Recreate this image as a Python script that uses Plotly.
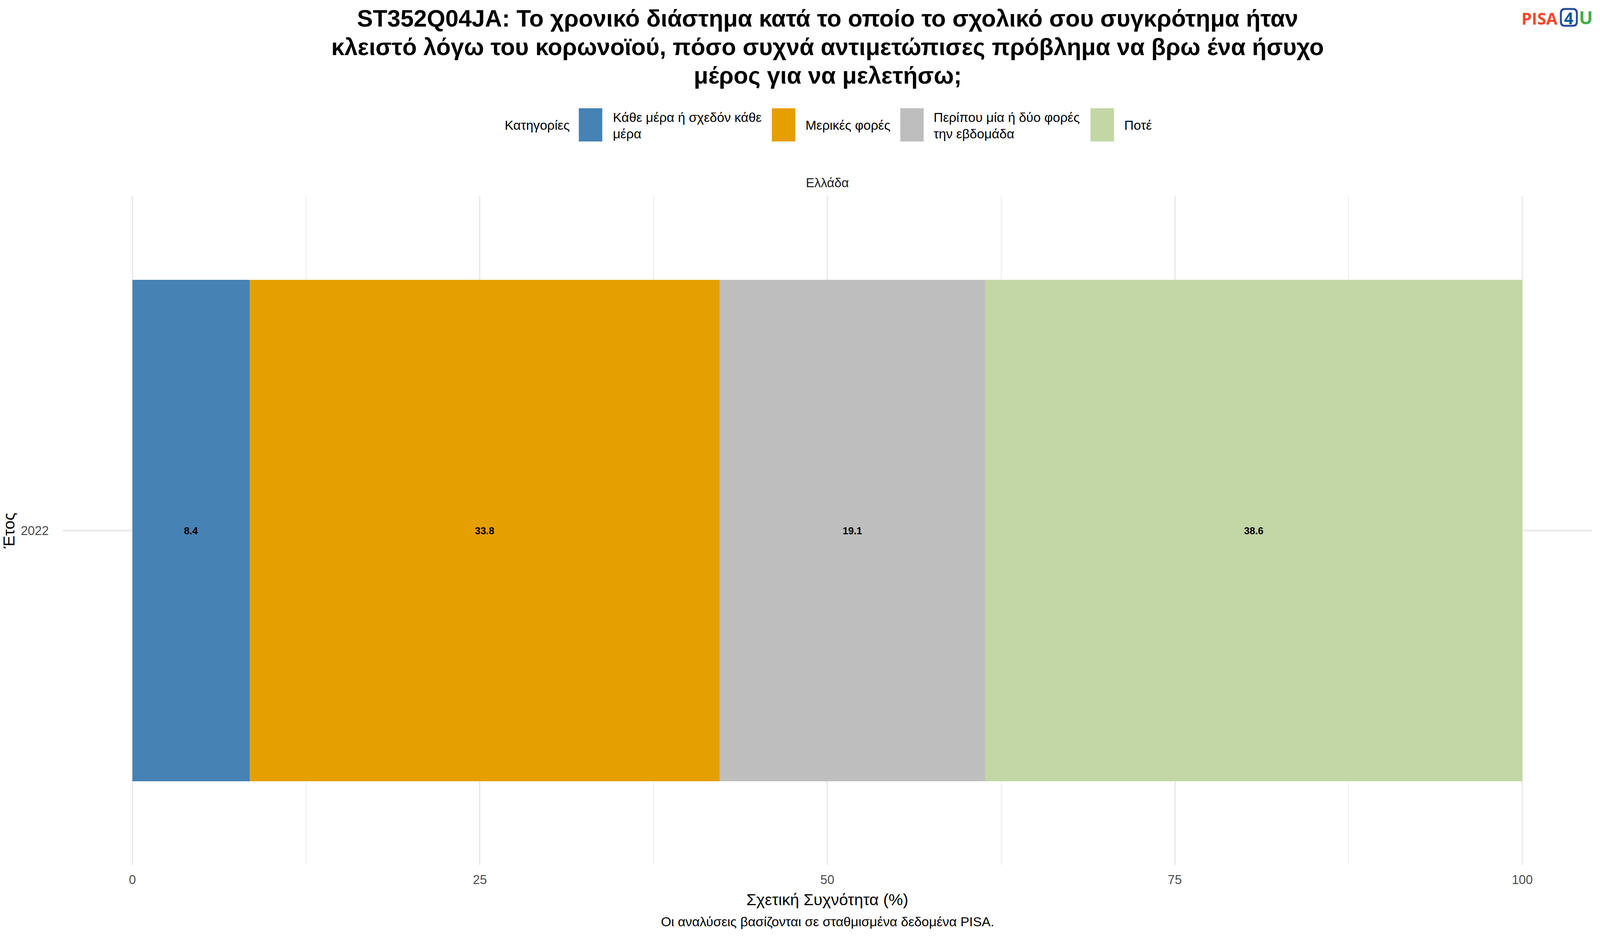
import plotly.graph_objects as go

# The browser viewport is capped at 4096 px wide, so the reference's 4500 px layout is
# scaled horizontally by SX; vertical positions are kept in reference pixels.
REF_W, H = 4500, 2400
VIEW_W = 4096
SX = VIEW_W / REF_W
PX0, PX1, PY0, PY1 = 177, 4477, 502, 2213

years = ["2022"]
categories = ["Κάθε μέρα ή σχεδόν κάθε<br>μέρα", "Μερικές φορές", "Περίπου μία ή δύο φορές<br>την εβδομάδα", "Ποτέ"]
values = [8.44, 33.80, 19.12, 38.64]
colors = ["#4682B4", "#E69F00", "#BEBEBE", "#C3D6A5"]
x_ticks = [0, 25, 50, 75, 100]
title_lines = ["ST352Q04JA: Το χρονικό διάστημα κατά το οποίο το σχολικό σου συγκρότημα ήταν",
               "κλειστό λόγω του κορωνοϊού, πόσο συχνά αντιμετώπισες πρόβλημα να βρω ένα ήσυχο",
               "μέρος για να μελετήσω;"]
FONT = "Liberation Sans"
GRID = "#EBEBEB"

# paper coordinates are fractions of the plot area
def fx(p): return (p - PX0) / (PX1 - PX0)
def fy(p): return (PY1 - p) / (PY1 - PY0)
def fs(size): return size * SX

fig = go.Figure()
for name, v, c in zip(categories, values, colors):
    fig.add_trace(go.Bar(
        y=years, x=[v], orientation="h", name=name.replace("<br>", " "),
        marker=dict(color=c, line=dict(width=0)),
        text=[f"{v:.1f}"], textposition="inside", insidetextanchor="middle", textangle=0,
        textfont=dict(family=FONT, size=fs(28), color="#000000", weight="bold"),
        constraintext="none", showlegend=False,
    ))

shapes, ann = [], []
def note(text, x, y, size, color="#000000", xanchor="center", family=FONT, weight="normal"):
    ann.append(dict(text=text, x=fx(x), y=fy(y), xref="paper", yref="paper", showarrow=False,
                    xanchor=xanchor, yanchor="middle", align="left" if xanchor == "left" else "center",
                    font=dict(family=family, size=fs(size), color=color, weight=weight)))

# title
for line, y in zip(title_lines, [47, 120, 193]):
    note(line, 2328, y, 66.7, weight="bold")

# legend
note("Κατηγορίες", 1417, 320, 36.9, xanchor="left")
swatch_x = [1628, 2171, 2532, 3067]
label_x = [1722, 2263, 2624, 3160]
for c, sx, lx, name in zip(colors, swatch_x, label_x, categories):
    shapes.append(dict(type="rect", xref="paper", yref="paper", x0=fx(sx), x1=fx(sx + 66),
                       y0=fy(277), y1=fy(362), fillcolor=c, line=dict(width=0)))
    lines = name.split("<br>")
    if len(lines) == 1:
        note(lines[0], lx, 320, 36.9, xanchor="left")
    else:
        note(lines[0], lx, 300, 36.9, xanchor="left")
        note(lines[1], lx, 342, 36.9, xanchor="left")

note("Ελλάδα", 2327, 468, 36, color="#1A1A1A")
note("Οι αναλύσεις βασίζονται σε σταθμισμένα δεδομένα PISA.", 2327, 2358, 37.2)

# logo
logo_font = "Open Sans"
note("PISA", 4383, 47, 46, color="#F4472A", xanchor="right", family=logo_font, weight="bold")
note("4", 4412, 45, 46, color="#00569C", family=logo_font, weight="bold")
note("U", 4460, 44, 52, color="#43AE4D", family=logo_font, weight="bold")
x0, x1, y0, y1, r = 4390, 4435, 23, 66, 11
path = (f"M {fx(x0+r)} {fy(y0)} L {fx(x1-r)} {fy(y0)} Q {fx(x1)} {fy(y0)} {fx(x1)} {fy(y0+r)} "
        f"L {fx(x1)} {fy(y1-r)} Q {fx(x1)} {fy(y1)} {fx(x1-r)} {fy(y1)} "
        f"L {fx(x0+r)} {fy(y1)} Q {fx(x0)} {fy(y1)} {fx(x0)} {fy(y1-r)} "
        f"L {fx(x0)} {fy(y0+r)} Q {fx(x0)} {fy(y0)} {fx(x0+r)} {fy(y0)} Z")
shapes.append(dict(type="path", path=path, xref="paper", yref="paper", line=dict(color="#2B4A9B", width=5)))

fig.update_layout(
    autosize=True, barmode="stack", bargap=0.1,
    margin=dict(l=PX0 * SX, r=(REF_W - PX1) * SX, t=PY0, b=H - PY1, pad=0),
    paper_bgcolor="#FFFFFF", plot_bgcolor="#FFFFFF", showlegend=False,
    font=dict(family=FONT),
    xaxis=dict(range=[-5, 105], tickvals=x_ticks, ticktext=[str(t) for t in x_ticks],
               showgrid=True, gridcolor=GRID, gridwidth=4.2, zeroline=False, showline=False,
               ticks="", tickfont=dict(family=FONT, size=fs(35.5), color="#4D4D4D"), ticklabelstandoff=16,
               minor=dict(dtick=12.5, tick0=0, showgrid=True, gridcolor=GRID, gridwidth=2.1, ticks=""),
               title=dict(text="Σχετική Συχνότητα (%)", standoff=18,
                          font=dict(family=FONT, size=fs(45.5), color="#000000")), automargin=False),
    yaxis=dict(type="category", range=[-0.6, 0.6], showgrid=True, gridcolor=GRID, gridwidth=4.6,
               zeroline=False, showline=False, ticks="",
               tickfont=dict(family=FONT, size=fs(35.5), color="#4D4D4D"), ticklabelstandoff=35,
               title=dict(text="Έτος", standoff=3, font=dict(family=FONT, size=fs(45.5), color="#000000")),
               automargin=False),
    shapes=shapes, annotations=ann,
)
fig.write_html("out.html", default_width="100vw", default_height="100vh",
               config=dict(displayModeBar=False),
               post_script="document.body.style.margin='0';document.documentElement.style.overflow='hidden';")
